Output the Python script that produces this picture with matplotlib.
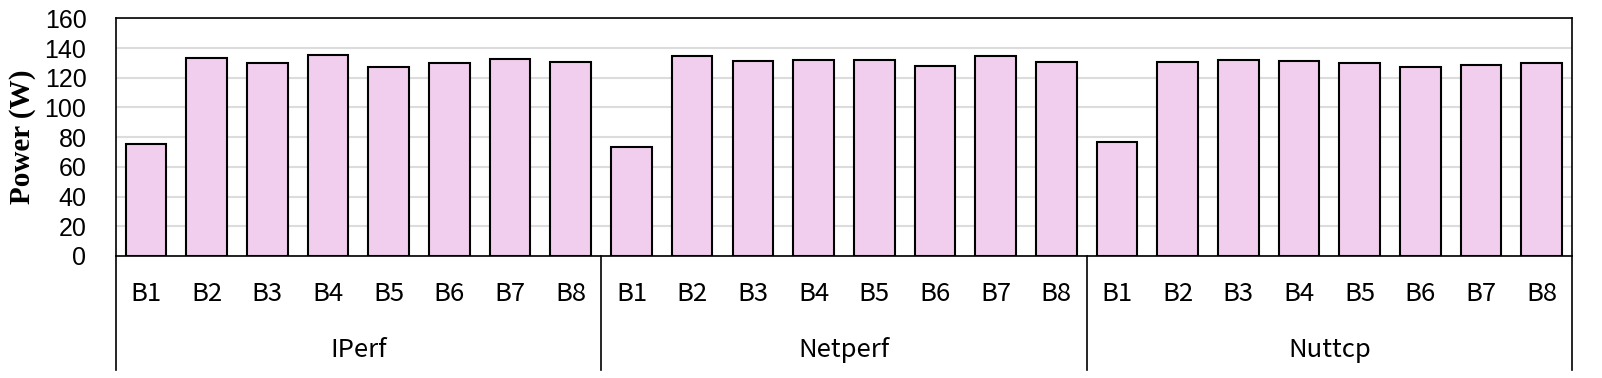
import numpy as np
import matplotlib.pyplot as plt
import matplotlib.transforms as mtransforms

groups = ["IPerf", "Netperf", "Nuttcp"]
benches = ["B1", "B2", "B3", "B4", "B5", "B6", "B7", "B8"]
iperf = [75.2, 133.5, 130.1, 135.3, 127.2, 130.1, 132.3, 130.3]
netperf = [73.4, 134.6, 131.2, 131.9, 131.9, 127.9, 134.4, 130.8]
nuttcp = [76.9, 130.3, 131.9, 131.4, 129.9, 127.2, 128.5, 129.9]
yticks = [0, 20, 40, 60, 80, 100, 120, 140, 160]

values = iperf + netperf + nuttcp
labels = benches * len(groups)
x = np.arange(len(values))

fig = plt.figure(figsize=(16.02, 3.78), dpi=100)
ax = fig.add_axes([0.0722, 0.3228, 0.9091, 0.6288])

ax.bar(x, values, width=0.67, color="#F2CEEE", edgecolor="black", linewidth=1.5, zorder=3)

ax.set_xlim(-0.5, len(values) - 0.5)
ax.set_ylim(0, 160)
ax.set_yticks(yticks)
ax.set_yticklabels([str(t) for t in yticks], family="Liberation Sans", fontsize=18)
ax.tick_params(axis="y", length=0, pad=21)
ax.grid(axis="y", color="#dcdcdc", linewidth=1.5, zorder=0)

ax.set_xticks(x)
ax.set_xticklabels(labels, family=["Noto Sans CJK SC", "DejaVu Sans"], fontsize=18.5)
ax.tick_params(axis="x", length=0, pad=18)

for s in ["top", "right", "left", "bottom"]:
    ax.spines[s].set_color("black")
    ax.spines[s].set_linewidth(1.2)

ax.set_ylabel("Power (W)", family="Liberation Serif", fontweight="bold", fontsize=21, labelpad=6)

# group separators and labels below the axis
trans = mtransforms.blended_transform_factory(ax.transData, ax.transAxes)
n = len(benches)
bottom = -0.48
for k in range(len(groups) + 1):
    xb = k * n - 0.5
    ax.plot([xb, xb], [0, bottom], transform=trans, color="black", linewidth=1.2, clip_on=False)
for k, g in enumerate(groups):
    ax.text(k * n + (n - 1) / 2, -0.395, g, transform=trans, ha="center", va="center",
            family=["Noto Sans CJK SC", "DejaVu Sans"], fontsize=18.5)

fig.savefig("out.png", dpi=100)
